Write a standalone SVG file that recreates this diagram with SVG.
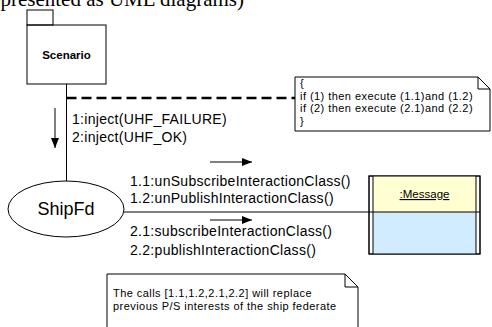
<svg xmlns="http://www.w3.org/2000/svg" width="492" height="327" viewBox="0 0 492 327">
<style>
.ln{fill:none;stroke:#000;stroke-width:1}
.t{font-family:"Liberation Sans",Arial,sans-serif;fill:#000}
.m{font-size:14px;letter-spacing:0.3px}
.n{font-size:11px;letter-spacing:0.45px}
</style>
<defs>
<marker id="ah" markerWidth="10" markerHeight="8" refX="10" refY="4" orient="auto" markerUnits="userSpaceOnUse">
<path d="M0,0 L10,4 L0,8 Z" fill="#000"/>
</marker>
</defs>
<rect width="492" height="327" fill="#fff"/>
<text x="244" y="6" text-anchor="end" font-family="'Liberation Serif',serif" font-size="21">represented as UML diagrams)</text>

<g id="connectors">
<line class="ln" x1="66.5" y1="84" x2="66.5" y2="181"/>
<line x1="66.5" y1="98" x2="295" y2="98" stroke="#000" stroke-width="2.5" stroke-dasharray="10,5"/>
<line class="ln" x1="124" y1="212" x2="369" y2="212"/>
<line class="ln" x1="55" y1="108" x2="55" y2="148" stroke-width="1.5" marker-end="url(#ah)"/>
<line class="ln" x1="210" y1="162" x2="252" y2="162" stroke-width="1.5" marker-end="url(#ah)"/>
<line class="ln" x1="210" y1="220" x2="252" y2="220" stroke-width="1.5" marker-end="url(#ah)"/>
<text class="t m" x="72" y="124">1:inject(UHF_FAILURE)</text>
<text class="t m" x="72" y="142">2:inject(UHF_OK)</text>
<text class="t m" x="130" y="186">1.1:unSubscribeInteractionClass()</text>
<text class="t m" x="130" y="203">1.2:unPublishInteractionClass()</text>
<text class="t m" x="130" y="236">2.1:subscribeInteractionClass()</text>
<text class="t m" x="130" y="255">2.2:publishInteractionClass()</text>
</g>

<g id="scenario">
<rect class="ln" x="27" y="10" width="26" height="15"/>
<rect class="ln" x="27" y="25" width="79" height="59" fill="#fff"/>
<text class="t" x="66.5" y="59" text-anchor="middle" font-size="11.5" font-weight="bold">Scenario</text>
</g>

<g id="shipfd">
<ellipse class="ln" cx="66" cy="209" rx="58" ry="28" fill="#fff"/>
<text class="t" x="66" y="215" text-anchor="middle" font-size="18">ShipFd</text>
</g>

<g id="message">
<rect x="369" y="176" width="111" height="78" fill="#fff" stroke="#000"/>
<rect x="373" y="176" width="103" height="36" fill="#FFFFD2"/>
<rect x="373" y="212" width="103" height="42" fill="#D2ECFF"/>
<line class="ln" x1="373" y1="176" x2="373" y2="254"/>
<line class="ln" x1="476" y1="176" x2="476" y2="254"/>
<line class="ln" x1="369" y1="212" x2="480" y2="212"/>
<rect class="ln" x="369" y="176" width="111" height="78"/>
<text class="t" x="424.5" y="198" text-anchor="middle" font-size="11.5" text-decoration="underline">:Message</text>
</g>

<g id="note1">
<path class="ln" d="M295,77 H478 L490,89 V131 H295 Z" fill="#fff"/>
<path class="ln" d="M478,77 V89 H490"/>
<text class="t n" x="300" y="87">{</text>
<text class="t n" x="300" y="99.5">if (1) then execute (1.1)and (1.2)</text>
<text class="t n" x="300" y="112">if (2) then execute (2.1)and (2.2)</text>
<text class="t n" x="300" y="124.5">}</text>
</g>

<g id="note2">
<path class="ln" d="M107,330 V274 H345 L358,287 V330" fill="#fff"/>
<path class="ln" d="M345,274 V287 H358"/>
<text class="t n" x="113" y="297">The calls [1.1,1.2,2.1,2.2] will replace</text>
<text class="t n" x="113" y="310">previous P/S interests of the ship federate</text>
</g>
</svg>
